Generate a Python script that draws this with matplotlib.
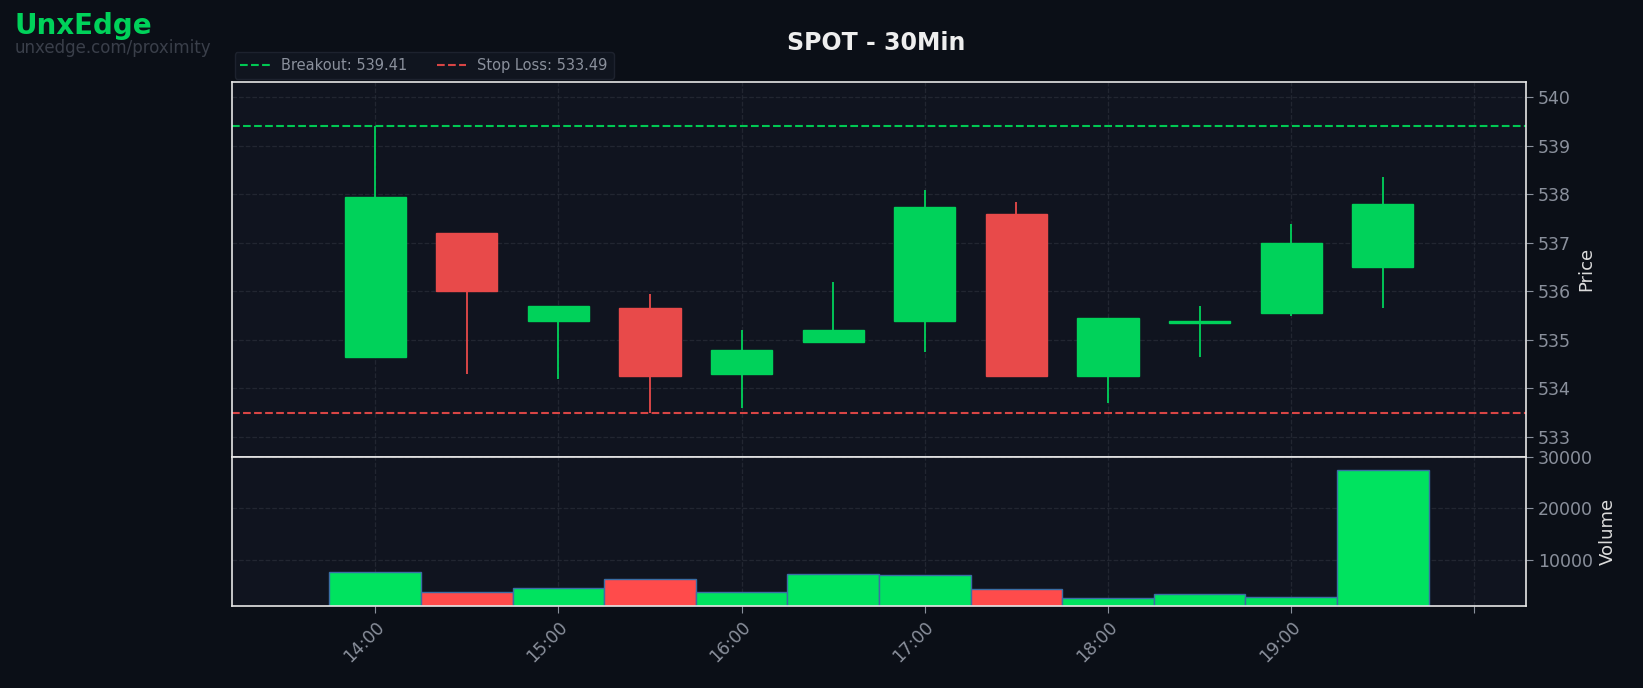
import matplotlib
matplotlib.use("Agg")
import matplotlib.pyplot as plt
import matplotlib.dates as mdates
import matplotlib.ticker as mticker
import pandas as pd
import numpy as np

times = pd.date_range("2024-01-02 14:00", periods=12, freq="30min")
opens = [534.65, 537.2, 535.4, 535.65, 534.3, 534.95, 535.4, 537.6, 534.25, 535.34, 535.55, 536.5]
closes = [537.95, 536.0, 535.7, 534.25, 534.8, 535.2, 537.75, 534.25, 535.45, 535.38, 537.0, 537.8]
highs = [539.4, 537.2, 535.7, 535.95, 535.2, 536.2, 538.1, 537.85, 535.45, 535.7, 537.4, 538.35]
lows = [534.65, 534.3, 534.2, 533.5, 533.6, 534.95, 534.75, 534.25, 533.7, 534.65, 535.5, 535.65]
volumes = [7700, 3800, 4600, 6300, 3800, 7300, 7100, 4400, 2600, 3400, 2800, 27500]
breakout = 539.41
stop_loss = 533.49

BG = "#0b0f17"; AX = "#10141f"; GREEN = "#00d25a"; RED = "#e84a4a"
VGREEN = "#00e35f"; VRED = "#ff4b4b"; TXT = "#8a909c"

fig = plt.figure(figsize=(16.43, 6.88), dpi=100, facecolor=BG)
ax = fig.add_axes([0.141, 0.336, 0.788, 0.545], facecolor=AX)
axv = fig.add_axes([0.141, 0.119, 0.788, 0.217], facecolor=AX, sharex=ax)

x = mdates.date2num(times)
w = 20 / 1440
for xi, o, c, h, l in zip(x, opens, closes, highs, lows):
    col = GREEN if c >= o else RED
    ax.vlines(xi, l, h, color=col, lw=1.3, zorder=2)
    ax.bar(xi, abs(c - o) if abs(c - o) > 0.02 else 0.03, bottom=min(o, c), width=w,
           color=col, edgecolor=col, lw=1, zorder=3)
ax.axhline(breakout, color="#00c853", ls="--", lw=1.5, label=f"Breakout: {breakout:.2f}")
ax.axhline(stop_loss, color="#d84545", ls="--", lw=1.5, label=f"Stop Loss: {stop_loss:.2f}")
ax.set_ylim(532.59, 540.32)
ax.set_yticks(range(533, 541))

vcols = [VGREEN if c >= o else VRED for o, c in zip(opens, closes)]
axv.bar(x, volumes, width=30 / 1440, color=vcols, edgecolor="#3a6ea5", lw=1)
axv.set_ylim(1000, 30000)
axv.set_yticks([10000, 20000, 30000])

x0 = mdates.date2num(pd.Timestamp("2024-01-02 13:13"))
x1 = mdates.date2num(pd.Timestamp("2024-01-02 20:17"))
ax.set_xlim(x0, x1)
last = mdates.date2num(pd.Timestamp("2024-01-02 20:00"))
axv.xaxis.set_major_locator(mdates.HourLocator())
axv.xaxis.set_major_formatter(mticker.FuncFormatter(
    lambda v, p: "" if v >= last - 1e-6 else mdates.num2date(v).strftime("%H:%M")))
plt.setp(ax.get_xticklabels(), visible=False)
plt.setp(axv.get_xticklabels(), rotation=45, ha="right", rotation_mode="anchor")

for a in (ax, axv):
    a.yaxis.tick_right()
    a.yaxis.set_label_position("right")
    a.tick_params(colors=TXT, labelsize=12.5, length=5)
    a.grid(True, color="#2a2f3a", ls="--", lw=0.9, alpha=0.7)
    a.set_axisbelow(True)
    for s in a.spines.values():
        s.set_color("#e6e6e6"); s.set_linewidth(1.2)
ax.tick_params(axis="x", length=0)
ax.set_ylabel("Price", color="#dcdcdc", fontsize=13)
axv.set_ylabel("Volume", color="#dcdcdc", fontsize=13)

leg = ax.legend(loc="lower left", bbox_to_anchor=(0, 1.0), ncol=2, frameon=True,
                fontsize=10.5, borderaxespad=0.2, handlelength=2)
leg.get_frame().set_facecolor("#121722"); leg.get_frame().set_edgecolor("#222733")
for t in leg.get_texts():
    t.set_color(TXT)

fig.text(0.533, 0.937, "SPOT - 30Min", ha="center", va="center", color="#eeeeee",
         fontsize=17, fontweight="bold")
fig.text(0.009, 0.962, "UnxEdge", color="#00d25a", fontsize=20, fontweight="bold", va="center")
fig.text(0.009, 0.930, "unxedge.com/proximity", color="#3a3f4a", fontsize=12, va="center")

fig.savefig("out.png", facecolor=BG)
